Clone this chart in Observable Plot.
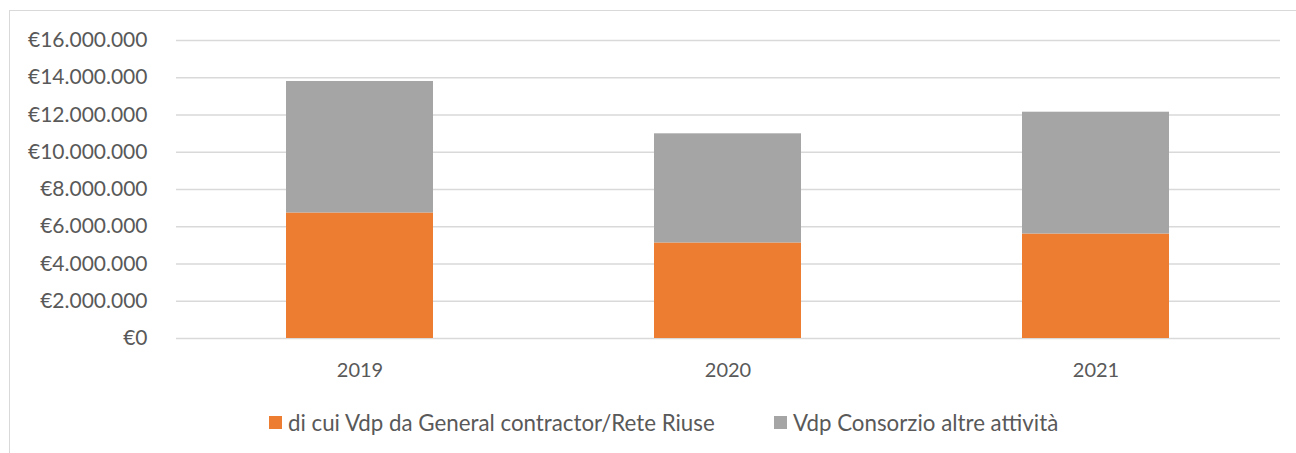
<!DOCTYPE html>
<html>
<head>
<meta charset="utf-8">
<script src="https://cdn.jsdelivr.net/npm/d3@7"></script>
<script src="https://cdn.jsdelivr.net/npm/@observablehq/plot@0.6"></script>
<style>
  html, body { margin: 0; padding: 0; background: #fff; }
  body { width: 1296px; height: 453px; position: relative; overflow: hidden; font-family: Lato, "Open Sans", sans-serif; }
  #frame { position: absolute; left: 9px; top: 10px; width: 1300px; height: 470px; border: 1px solid #d9d9d9; box-sizing: border-box; pointer-events: none; }
  #chart { position: absolute; left: 0; top: 0; }
  #legend { position: absolute; left: 0; top: 400px; width: 1296px; height: 53px; color: #595959; font-size: 22.3px; }
  .item { position: absolute; top: 9px; display: flex; align-items: center; white-space: nowrap; }
  .sw { width: 13px; height: 13px; margin-right: 6px; display: inline-block; }
</style>
</head>
<body>
<div id="chart"></div>
<div id="legend"></div>
<div id="frame"></div>
<script>
const years = ["2019", "2020", "2021"];
const generalContractor = [6740000, 5130000, 5610000];
const altreAttivita = [7060000, 5860000, 6540000];
const seriesNames = ["di cui Vdp da General contractor/Rete Riuse", "Vdp Consorzio altre attività"];
const seriesColors = ["#ED7D31", "#A5A5A5"];
const yTicks = [0, 2000000, 4000000, 6000000, 8000000, 10000000, 12000000, 14000000, 16000000];

const locale = d3.formatLocale({decimal: ",", thousands: ".", grouping: [3], currency: ["€", ""]});
const fmt = locale.format("$,.0f");

const data = years.flatMap((y, i) => [
  {year: y, series: seriesNames[0], value: generalContractor[i]},
  {year: y, series: seriesNames[1], value: altreAttivita[i]}
]);

const chart = Plot.plot({
  width: 1296,
  height: 400,
  marginLeft: 176,
  marginRight: 16,
  marginTop: 40,
  marginBottom: 62,
  style: {fontFamily: "Lato, 'Open Sans', sans-serif", fontSize: "20px", color: "#595959", background: "transparent"},
  x: {domain: years, paddingInner: 0.6, paddingOuter: 0.3},
  y: {domain: [0, 16000000]},
  color: {domain: seriesNames, range: seriesColors},
  marks: [
    Plot.gridY(yTicks, {stroke: "#d9d9d9", strokeOpacity: 1, strokeWidth: 1.5}),
    Plot.barY(data, {x: "year", y: "value", fill: "series"}),
    Plot.axisY(yTicks, {tickSize: 0, tickPadding: 29, tickFormat: fmt, label: null, fontSize: 21}),
    Plot.axisX({tickSize: 0, tickPadding: 24, label: null, fontSize: 20})
  ]
});
document.getElementById("chart").appendChild(chart);

const legend = document.getElementById("legend");
const lefts = [269, 774];
seriesNames.forEach((name, i) => {
  const it = document.createElement("div");
  it.className = "item";
  it.style.left = lefts[i] + "px";
  const sw = document.createElement("span");
  sw.className = "sw";
  sw.style.background = seriesColors[i];
  const tx = document.createElement("span");
  tx.textContent = name;
  it.appendChild(sw);
  it.appendChild(tx);
  legend.appendChild(it);
});
</script>
</body>
</html>
